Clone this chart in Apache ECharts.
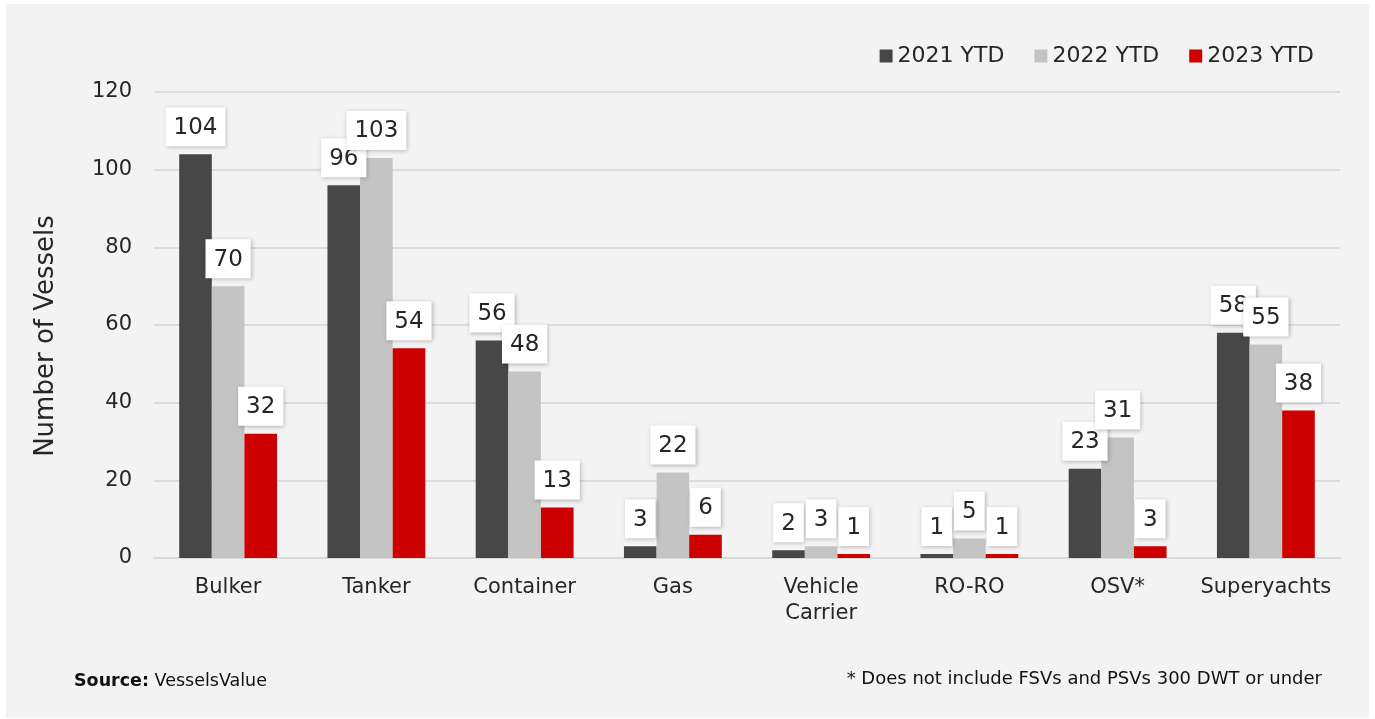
<!DOCTYPE html>
<html>
<head>
<meta charset="utf-8">
<script src="https://cdn.jsdelivr.net/npm/echarts@6/dist/echarts.min.js"></script>
<style>
  html, body { margin: 0; padding: 0; background: #ffffff; }
  #panel {
    position: absolute; left: 6px; top: 4px;
    width: 1363px; height: 714px;
    background: #f3f3f3;
  }
  #chart { width: 100%; height: 100%; }
</style>
</head>
<body>
<div id="panel"><div id="chart"></div></div>
<script>
const categories = ['Bulker', 'Tanker', 'Container', 'Gas', 'Vehicle\nCarrier', 'RO-RO', 'OSV*', 'Superyachts'];
const ytd2021 = [104, 96, 56, 3, 2, 1, 23, 58];
const ytd2022 = [70, 103, 48, 22, 3, 5, 31, 55];
const ytd2023 = [32, 54, 13, 6, 1, 1, 3, 38];
const yTicks = [0, 20, 40, 60, 80, 100, 120];

const FONT = 'DejaVu Sans';
const TEXT = '#262626';

const chart = echarts.init(document.getElementById('chart'));

// boxed value label used on all three series
const boxLabel = {
  show: true,
  position: 'top',
  distance: 8,
  fontFamily: FONT,
  fontSize: 23,
  color: TEXT,
  backgroundColor: '#ffffff',
  padding: [9, 8, 7, 8],
  shadowColor: 'rgba(0,0,0,0.25)',
  shadowBlur: 4,
  shadowOffsetX: 1,
  shadowOffsetY: 1
};

const makeSeries = (name, data, color) => ({
  name,
  type: 'bar',
  data,
  barGap: '0%',
  barCategoryGap: '34%',
  itemStyle: { color },
  label: boxLabel,
  emphasis: { disabled: true }
});

const option = {
  animation: false,
  backgroundColor: 'transparent',
  textStyle: { fontFamily: FONT },
  legend: {
    right: 50,
    top: 36,
    itemWidth: 13,
    itemHeight: 13,
    itemGap: 30,
    icon: 'rect',
    textStyle: { fontFamily: FONT, fontSize: 22, color: TEXT },
    data: ['2021 YTD', '2022 YTD', '2023 YTD']
  },
  grid: {
    left: 148,
    right: 29,
    top: 88,
    bottom: 160
  },
  xAxis: {
    type: 'category',
    data: categories,
    axisLine: { show: true, lineStyle: { color: '#d9d9d9', width: 2 } },
    axisTick: { show: false },
    axisLabel: {
      fontFamily: FONT,
      fontSize: 21,
      color: TEXT,
      margin: 17,
      lineHeight: 26,
      interval: 0
    }
  },
  yAxis: {
    type: 'value',
    min: yTicks[0],
    max: yTicks[yTicks.length - 1],
    interval: 20,
    name: 'Number of Vessels',
    nameLocation: 'middle',
    nameGap: 95,
    nameTextStyle: { fontFamily: FONT, fontSize: 26, color: TEXT, padding: [0, 22, 0, 0] },
    axisLine: { show: false },
    axisTick: { show: false },
    axisLabel: { fontFamily: FONT, fontSize: 21, color: TEXT, margin: 22 },
    splitLine: { lineStyle: { color: '#dcdcdc', width: 2 } }
  },
  series: [
    makeSeries('2021 YTD', ytd2021, '#474747'),
    makeSeries('2022 YTD', ytd2022, '#c4c4c4'),
    makeSeries('2023 YTD', ytd2023, '#cc0000')
  ],
  graphic: [
    {
      type: 'text',
      left: 68,
      top: 668,
      style: {
        text: '{b|Source:} VesselsValue',
        rich: {
          b: { fontFamily: FONT, fontSize: 17.5, fontWeight: 'bold', fill: '#111111' }
        },
        fontFamily: FONT,
        fontSize: 17.5,
        fill: '#111111'
      }
    },
    {
      type: 'text',
      right: 47,
      top: 666,
      style: {
        text: '* Does not include FSVs and PSVs 300 DWT or under',
        fontFamily: FONT,
        fontSize: 18,
        fill: '#111111'
      }
    }
  ]
};

chart.setOption(option);
window.addEventListener('resize', () => chart.resize());
</script>
</body>
</html>
